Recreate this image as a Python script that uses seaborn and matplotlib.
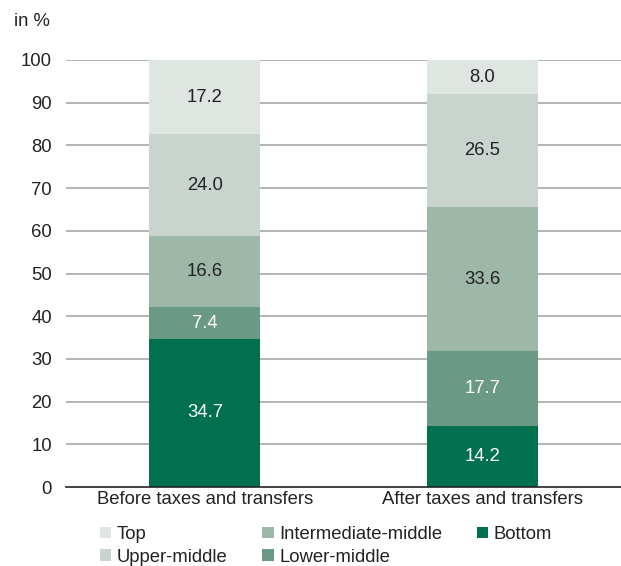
import matplotlib
matplotlib.use("Agg")
import matplotlib.pyplot as plt
import seaborn as sns
import pandas as pd
import numpy as np
from matplotlib.patches import Patch

categories = ["Before taxes and transfers", "After taxes and transfers"]
groups = ["Bottom", "Lower-middle", "Intermediate-middle", "Upper-middle", "Top"]
bottom = [34.7, 14.2]
lower_middle = [7.4, 17.7]
intermediate_middle = [16.6, 33.6]
upper_middle = [24.0, 26.5]
top = [17.2, 8.0]
colors = {"Bottom": "#00704f", "Lower-middle": "#6a9a85", "Intermediate-middle": "#9db8a8",
          "Upper-middle": "#c8d4cd", "Top": "#dfe5e1"}
label_colors = {"Bottom": "white", "Lower-middle": "white", "Intermediate-middle": "#222222",
                "Upper-middle": "#222222", "Top": "#222222"}
yticks = [0, 10, 20, 30, 40, 50, 60, 70, 80, 90, 100]

sns.set_style("white")
plt.rcParams["font.family"] = ["Liberation Sans", "DejaVu Sans"]
FS = 13.3

series = {"Bottom": bottom, "Lower-middle": lower_middle,
          "Intermediate-middle": intermediate_middle, "Upper-middle": upper_middle, "Top": top}
rows = []
for g in groups:
    for c, v in zip(categories, series[g]):
        rows.append({"category": c, "group": g, "value": v})
df = pd.DataFrame(rows)
df["cum"] = df.groupby("category")["value"].cumsum()
df["start"] = df["cum"] - df["value"]

fig = plt.figure(figsize=(6.21, 5.66), dpi=100)
ax = fig.add_axes([66/621, 1 - 487/566, 1 - 66/621, (487 - 60)/566])

for y in yticks[1:]:
    ax.axhline(y, color="#a8a8a8", lw=1.2, zorder=0)

for g in reversed(groups):
    sub = df[df["group"] == g]
    sns.barplot(data=sub, x="category", y="cum", order=categories, color=colors[g],
                width=0.40, saturation=1, ax=ax, zorder=2, linewidth=0, errorbar=None)

for _, r in df.iterrows():
    xi = categories.index(r["category"])
    ax.text(xi, r["start"] + r["value"] / 2, f"{r['value']:.1f}", ha="center", va="center",
            fontsize=FS, color=label_colors[r["group"]], zorder=3)

ax.set_xlim(-0.5, 1.5)
ax.set_ylim(0, 100)
ax.set_yticks(yticks)
ax.set_yticklabels([str(t) for t in yticks])
ax.set_xlabel("")
ax.set_ylabel("")
for s in ["top", "right", "left"]:
    ax.spines[s].set_visible(False)
ax.spines["bottom"].set_color("#222222")
ax.spines["bottom"].set_linewidth(1.2)
ax.tick_params(axis="y", length=0, pad=10, labelsize=FS, labelcolor="#222222")
ax.tick_params(axis="x", length=0, pad=3, labelsize=FS, labelcolor="#222222")
ax.set_axisbelow(True)

fig.text(14/621, 1 - 21/566, "in %", fontsize=FS, color="#222222", va="center", ha="left")

order = ["Top", "Upper-middle", "Intermediate-middle", "Lower-middle", "Bottom"]
handles = [Patch(facecolor=colors[g], edgecolor="none", label=g) for g in order]
leg = fig.legend(handles=handles, ncol=3, loc="upper left", bbox_to_anchor=(100/621, 1 - 526/566),
                 frameon=False, fontsize=FS, handlelength=0.6, handleheight=0.6,
                 handletextpad=0.3, columnspacing=1.9, labelspacing=0.3, borderaxespad=0,
                 borderpad=0)
for t in leg.get_texts():
    t.set_color("#222222")

fig.savefig("out.png", dpi=100)
